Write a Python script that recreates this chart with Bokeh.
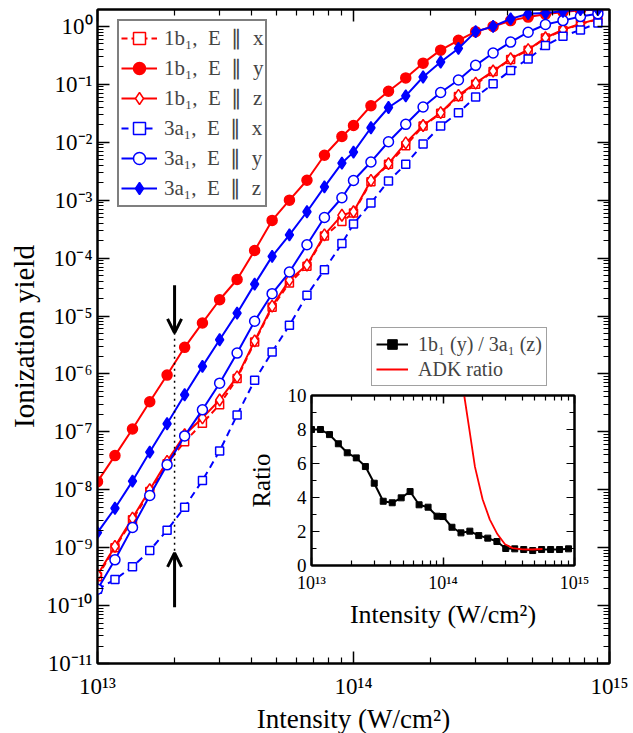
from bokeh.plotting import figure
from bokeh.models import (LogAxis, LinearAxis, FixedTicker, CustomJSTickFormatter, Legend, LegendItem,
                          Arrow, OpenHead, Range1d)
from bokeh.layouts import column
from bokeh.embed import file_html
from bokeh.resources import INLINE

# ---------------- data ----------------
intensity = [1.00e13, 1.17e13, 1.37e13, 1.60e13, 1.87e13, 2.19e13, 2.57e13, 3.00e13, 3.51e13, 4.11e13,
             4.81e13, 5.62e13, 6.58e13, 7.70e13, 9.01e13,
             1.00e14, 1.17e14, 1.37e14, 1.60e14, 1.87e14, 2.19e14, 2.57e14, 3.00e14, 3.51e14, 4.11e14,
             4.81e14, 5.62e14, 6.58e14, 7.70e14, 9.01e14]

yield_1b1_x = [3.16e-10, 1.0e-9, 3.02e-9, 9.33e-9, 2.82e-8, 6.76e-8, 1.41e-7, 2.95e-7, 8.32e-7, 3.55e-6,
               1.41e-5, 3.72e-5, 7.24e-5, 2.40e-4, 4.27e-4, 6.03e-4, 2.09e-3, 4.17e-3, 8.71e-3, 1.91e-2,
               3.16e-2, 6.17e-2, 0.100, 0.166, 0.269, 0.389, 0.631, 0.851, 1.10, 1.32]
yield_1b1_y = [1.38e-8, 3.89e-8, 1.12e-7, 3.31e-7, 9.55e-7, 2.88e-6, 7.59e-6, 1.91e-5, 4.27e-5, 1.35e-4,
               4.47e-4, 1.0e-3, 2.21e-3, 5.97e-3, 1.26e-2, 1.95e-2, 4.27e-2, 7.59e-2, 0.129, 0.232,
               0.389, 0.575, 0.813, 1.0, 1.26, 1.45, 1.62, 1.78, 1.91, 1.95]
yield_1b1_z = [3.39e-10, 1.05e-9, 3.24e-9, 1.0e-8, 3.09e-8, 8.91e-8, 1.74e-7, 3.55e-7, 8.91e-7, 3.72e-6,
               1.48e-5, 4.17e-5, 7.59e-5, 2.51e-4, 5.50e-4, 6.31e-4, 2.19e-3, 4.27e-3, 9.77e-3, 1.95e-2,
               3.24e-2, 6.46e-2, 0.105, 0.170, 0.277, 0.398, 0.638, 0.877, 1.11, 1.35]
yield_3a1_x = [1.91e-10, 2.82e-10, 4.68e-10, 8.91e-10, 2.0e-9, 5.01e-9, 1.45e-8, 4.68e-8, 1.95e-7, 7.76e-7,
               2.40e-6, 6.92e-6, 2.29e-5, 6.31e-5, 1.78e-4, 3.89e-4, 8.91e-4, 2.14e-3, 4.17e-3, 9.33e-3,
               1.91e-2, 3.24e-2, 6.03e-2, 0.102, 0.174, 0.275, 0.468, 0.676, 0.871, 1.15]
yield_3a1_y = [1.91e-10, 6.17e-10, 2.24e-9, 7.94e-9, 2.69e-8, 8.51e-8, 2.40e-7, 6.92e-7, 2.29e-6, 8.13e-6,
               2.43e-5, 5.75e-5, 1.70e-4, 5.01e-4, 1.10e-3, 2.19e-3, 4.57e-3, 1.02e-2, 2.04e-2, 4.07e-2,
               7.24e-2, 0.119, 0.213, 0.347, 0.537, 0.794, 1.08, 1.26, 1.48, 1.66]
yield_3a1_z = [1.82e-9, 4.79e-9, 1.41e-8, 4.47e-8, 1.38e-7, 4.37e-7, 1.35e-6, 3.89e-6, 1.12e-5, 3.55e-5,
               1.07e-4, 2.51e-4, 6.31e-4, 1.70e-3, 4.37e-3, 6.76e-3, 1.78e-2, 3.98e-2, 6.31e-2, 0.134,
               0.243, 0.417, 0.813, 1.0, 1.35, 1.66, 1.70, 1.82, 1.95, 1.95]

ratio = [8.0, 8.0, 7.7, 7.16, 6.63, 6.33, 5.82, 4.84, 3.78, 3.69, 3.98, 4.35, 3.57, 3.43, 2.9,
         2.88, 2.25, 1.92, 2.02, 1.76, 1.61, 1.41, 1.0, 0.98, 0.94, 0.88, 0.94, 0.94, 0.94, 0.98]

adk_intensity = [1.40e14, 1.45e14, 1.58e14, 1.75e14, 2.00e14, 2.27e14, 2.59e14, 2.96e14, 3.38e14,
                 4.03e14, 4.80e14, 5.71e14]
adk_ratio = [11.0, 10.0, 8.1, 5.8, 3.9, 2.7, 1.85, 1.25, 1.02, 0.95, 0.94, 0.97]

x_major = [1e13, 1e14, 1e15]
y_major = [1e-11, 1e-10, 1e-9, 1e-8, 1e-7, 1e-6, 1e-5, 1e-4, 1e-3, 1e-2, 1e-1, 1e0]
inset_y_major = [0, 2, 4, 6, 8, 10]
inset_y_minor = [1, 3, 5, 7, 9]

arrow_intensity = 2e13
arrow_down = (10 ** -4.47, 10 ** -5.29)
arrow_up = (10 ** -10.03, 10 ** -9.09)
dotted_span = (10 ** -5.29, 10 ** -9.07)

# ---------------- styling ----------------
RED = "#ff0000"
BLUE = "#0000ff"
SERIF = "Liberation Serif"
SP = "\u2002"
NAN = float("nan")

x_minor = [d * 10 ** e for e in (13, 14) for d in range(2, 10)]
y_minor = [d * 10.0 ** e for e in range(-11, 0) for d in range(2, 10)]

sup_code = """
const m = {'-':'\u207b','0':'\u2070','1':'\u00b9','2':'\u00b2','3':'\u00b3','4':'\u2074','5':'\u2075','6':'\u2076','7':'\u2077','8':'\u2078','9':'\u2079'};
const e = Math.round(Math.log10(tick));
return '10' + String(e).split('').map(c => m[c]).join('');
"""


def sup_formatter():
    return CustomJSTickFormatter(code=sup_code)


main = figure(x_axis_type="log", y_axis_type="log",
              x_range=Range1d(1e13, 1e15), y_range=Range1d(1e-11, 1.96),
              frame_width=512, frame_height=654,
              min_border_left=97, min_border_right=22, min_border_top=9, min_border_bottom=68,
              output_backend="svg", toolbar_location=None)
main.grid.visible = False
main.outline_line_color = "black"
main.outline_line_width = 2
main.background_fill_color = "white"


def style_axis(ax, ticker, labels=True, tick_in=12, minor_in=6, font="23px"):
    ax.ticker = ticker
    ax.formatter = sup_formatter()
    ax.major_tick_in = tick_in
    ax.major_tick_out = 0
    ax.minor_tick_in = minor_in
    ax.minor_tick_out = 0
    ax.axis_line_width = 2
    ax.major_tick_line_width = 1.5
    ax.minor_tick_line_width = 1.2
    ax.major_label_text_font = SERIF
    ax.major_label_text_color = "black"
    ax.axis_label_text_font = SERIF
    ax.axis_label_text_font_style = "normal"
    ax.axis_label_text_color = "black"
    if labels:
        ax.major_label_text_font_size = font
    else:
        ax.major_label_text_font_size = "0px"
        ax.major_label_standoff = 0


xt = FixedTicker(ticks=x_major, minor_ticks=x_minor)
yt = FixedTicker(ticks=y_major, minor_ticks=y_minor)

style_axis(main.xaxis[0], xt)
main.xaxis[0].axis_label = "Intensity (W/cm\u00b2)"
main.xaxis[0].axis_label_text_font_size = "27px"
main.xaxis[0].major_label_standoff = 10
main.xaxis[0].axis_label_standoff = 2

style_axis(main.yaxis[0], yt)
main.yaxis[0].axis_label = "Ionization yield"
main.yaxis[0].axis_label_text_font_size = "29px"
main.yaxis[0].major_label_standoff = 5
main.yaxis[0].axis_label_standoff = 4

top_ax = LogAxis()
style_axis(top_ax, FixedTicker(ticks=x_major, minor_ticks=x_minor), labels=False)
main.add_layout(top_ax, "above")
right_ax = LogAxis()
style_axis(right_ax, FixedTicker(ticks=y_major, minor_ticks=y_minor), labels=False)
main.add_layout(right_ax, "right")

series = [
    ("1b\u2081," + SP + "E" + SP + "\u2225" + SP + "x", yield_1b1_x, RED, "square", "white", "6 4", 8),
    ("1b\u2081," + SP + "E" + SP + "\u2225" + SP + "y", yield_1b1_y, RED, "circle", RED, "solid", 10),
    ("1b\u2081," + SP + "E" + SP + "\u2225" + SP + "z", yield_1b1_z, RED, "diamond", "white", "solid", 12),
    ("3a\u2081," + SP + "E" + SP + "\u2225" + SP + "x", yield_3a1_x, BLUE, "square", "white", "7 5", 8),
    ("3a\u2081," + SP + "E" + SP + "\u2225" + SP + "y", yield_3a1_y, BLUE, "circle", "white", "solid", 10),
    ("3a\u2081," + SP + "E" + SP + "\u2225" + SP + "z", yield_3a1_z, BLUE, "diamond", BLUE, "solid", 12),
]

items = []
for label, ys, color, marker, fill, dash, size in series:
    lr = main.line(intensity, ys, line_color=color, line_width=2, line_dash=dash)
    sr = main.scatter(intensity, ys, marker=marker, size=size, line_color=color,
                      fill_color=fill, line_width=1.5)
    items.append(LegendItem(label=label, renderers=[lr, sr]))

main.line([arrow_intensity, arrow_intensity], list(dotted_span), line_color="black",
          line_width=1.5, line_dash="2 4")
main.add_layout(Arrow(end=OpenHead(size=14, line_width=3, line_color="black"),
                      x_start=arrow_intensity, y_start=arrow_down[0],
                      x_end=arrow_intensity, y_end=arrow_down[1],
                      line_width=3, line_color="black"))
main.add_layout(Arrow(end=OpenHead(size=14, line_width=3, line_color="black"),
                      x_start=arrow_intensity, y_start=arrow_up[0],
                      x_end=arrow_intensity, y_end=arrow_up[1],
                      line_width=3, line_color="black"))

leg = Legend(items=items, location=(20, 456))
leg.border_line_color = "black"
leg.border_line_width = 2
leg.background_fill_color = "white"
leg.background_fill_alpha = 1
leg.label_text_font = SERIF
leg.label_text_font_size = "21px"
leg.glyph_width = 36
leg.glyph_height = 30
leg.label_height = 30
leg.spacing = 0
leg.padding = 2
leg.label_standoff = 7
leg.margin = 0
main.add_layout(leg)

# legend of the inset, drawn by the main figure (it lies above the inset frame);
# its sample renderers hold a single NaN point, so they draw nothing themselves
proxy_line = main.line([NAN], [NAN], line_color="black", line_width=2)
proxy_sq = main.scatter([NAN], [NAN], marker="square", size=6, color="black")
proxy_adk = main.line([NAN], [NAN], line_color=RED, line_width=1.8)
ileg = Legend(items=[LegendItem(label="1b\u2081 (y) / 3a\u2081 (z)", renderers=[proxy_line, proxy_sq]),
                     LegendItem(label="ADK ratio", renderers=[proxy_adk])],
              location=(274, 277))
ileg.border_line_color = "#444444"
ileg.border_line_width = 1.5
ileg.background_fill_color = "white"
ileg.background_fill_alpha = 1
ileg.label_text_font = SERIF
ileg.label_text_font_size = "20px"
ileg.glyph_width = 32
ileg.glyph_height = 24
ileg.label_height = 24
ileg.spacing = 1
ileg.padding = 4
ileg.label_standoff = 10
ileg.margin = 0
main.add_layout(ileg)

# ---------------- inset ----------------
inset = figure(x_axis_type="log", x_range=Range1d(1e13, 1e15), y_range=Range1d(0, 10),
               frame_width=263, frame_height=170,
               min_border_left=95, min_border_right=30, min_border_top=20, min_border_bottom=75,
               output_backend="svg", toolbar_location=None)
inset.grid.visible = False
inset.outline_line_color = "black"
inset.outline_line_width = 2
inset.background_fill_color = "white"
inset.border_fill_alpha = 0

style_axis(inset.xaxis[0], FixedTicker(ticks=x_major, minor_ticks=x_minor), tick_in=8, minor_in=5,
           font="18px")
inset.xaxis[0].axis_label = "Intensity (W/cm\u00b2)"
inset.xaxis[0].axis_label_text_font_size = "26px"
inset.xaxis[0].major_label_standoff = 7
inset.xaxis[0].axis_label_standoff = 4

iy = inset.yaxis[0]
iy.ticker = FixedTicker(ticks=inset_y_major, minor_ticks=inset_y_minor)
iy.major_tick_in = 8
iy.major_tick_out = 0
iy.minor_tick_in = 5
iy.minor_tick_out = 0
iy.axis_line_width = 2
iy.major_label_text_font = SERIF
iy.major_label_text_font_size = "19px"
iy.major_label_text_color = "black"
iy.major_label_standoff = 5
iy.axis_label = "Ratio"
iy.axis_label_text_font = SERIF
iy.axis_label_text_font_style = "normal"
iy.axis_label_text_font_size = "25px"
iy.axis_label_text_color = "black"
iy.axis_label_standoff = 10

itop = LogAxis()
style_axis(itop, FixedTicker(ticks=x_major, minor_ticks=x_minor), labels=False, tick_in=8, minor_in=5)
inset.add_layout(itop, "above")
iright = LinearAxis(ticker=FixedTicker(ticks=inset_y_major, minor_ticks=inset_y_minor))
iright.major_tick_in = 8
iright.major_tick_out = 0
iright.minor_tick_in = 5
iright.minor_tick_out = 0
iright.axis_line_width = 2
iright.major_label_text_font_size = "0px"
iright.major_label_standoff = 0
inset.add_layout(iright, "right")

inset.line(intensity, ratio, line_color="black", line_width=2)
inset.scatter(intensity, ratio, marker="square", size=6, color="black")
inset.line(adk_intensity, adk_ratio, line_color=RED, line_width=1.8)

inset.styles = {"position": "absolute", "left": "214px", "top": "375px"}

layout = column(main, inset)
with open("out.html", "w", encoding="utf-8") as f:
    f.write(file_html(layout, INLINE))
